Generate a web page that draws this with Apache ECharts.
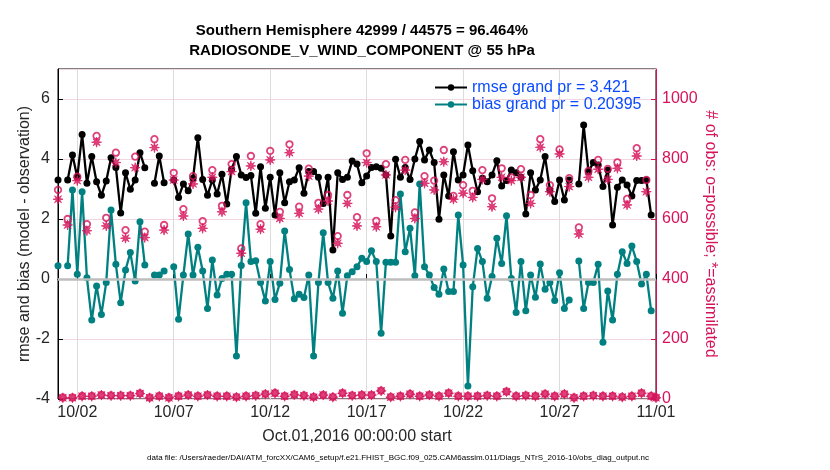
<!DOCTYPE html>
<html><head><meta charset="utf-8">
<script src="https://cdn.jsdelivr.net/npm/echarts@6/dist/echarts.min.js"></script>
<style>html,body{margin:0;padding:0;background:#fff}#c{width:830px;height:470px}</style>
</head><body><div id="c"></div>
<script>
// ---- data (6-hourly bins from Oct 1 2016 00Z to Nov 1 2016 00Z) ----
const titleLines = ['Southern Hemisphere 42999 / 44575 = 96.464%', 'RADIOSONDE_V_WIND_COMPONENT @ 55 hPa'];
const tickLabels = ['10/02','10/07','10/12','10/17','10/22','10/27','11/01'];
const rmseName = 'rmse grand pr = 3.421';
const biasName = 'bias grand pr = 0.20395';

const rmse = [
 3.30, null, 3.30, 4.13, 3.39, 4.82, 3.19, 4.08, 3.24, 2.79,
 3.27, 4.04, 3.72, 2.20, 3.54, 2.99, 3.30, 4.21, 3.71, null,
 3.19, 4.10, 3.21, null, 3.30, 2.72, 3.17, 2.94, 3.36, 4.71,
 3.32, 2.79, 3.30, 2.83, 3.49, 2.50, 3.66, 4.08, 3.47, 3.38,
 3.45, 2.19, 3.74, 2.36, 3.39, 2.13, 3.54, 2.54, 3.24, 3.30,
 3.71, 2.86, 3.58, 3.58, 3.39, 2.52, 3.39, 0.97, 3.54, 3.32,
 3.39, 3.93, 3.83, 3.21, 3.43, 3.72, 3.74, 3.69, 3.47, 1.43,
 3.99, 3.39, 3.72, 3.32, 4.00, 4.58, 3.97, 4.30, 3.88, 1.99,
 3.47, 2.77, 4.24, 3.30, 3.47, 4.47, 3.61, 2.91, 3.36, 3.24,
 3.47, 3.94, 3.10, 3.28, 3.63, 3.54, 3.39, 2.17, 3.54, 2.97,
 3.30, 4.08, 2.97, 2.58, 3.30, 2.63, 3.30, null, 3.17, 5.13,
 3.58, 3.88, 3.80, 3.08, 3.63, 1.80, 3.06, 3.30, 3.13, 2.77,
 3.28, 3.28, 3.30, 2.13, null
];
const bias = [
 0.44, null, 0.44, 2.97, 0.16, 2.91, 0.04, -1.37, -0.23, -1.18,
 -0.12, 2.30, 0.49, -0.79, 0.30, 0.88, -0.07, 1.91, 0.47, null,
 0.13, 0.13, 0.27, null, 0.41, -1.34, 0.13, 1.50, 0.13, 1.06,
 0.27, -0.98, 0.63, -0.53, 0.02, 0.16, 0.16, -2.57, 0.45, 2.54,
 0.58, 0.61, -0.12, -0.73, 0.58, -0.68, -0.14, 1.60, 0.32, -0.66,
 -0.51, -0.62, 0.13, -2.57, -0.12, 1.54, -0.12, -0.64, 0.27, -1.14,
 0.11, 0.24, 0.41, 0.69, 0.58, 0.94, 0.58, -1.81, 0.56, 0.56,
 0.56, 2.83, 0.91, 1.69, 0.11, 3.17, 0.41, 0.13, -0.28, -0.51,
 0.33, -0.42, -0.42, 2.13, 0.47, -3.57, -0.26, 1.02, 0.58, -0.64,
 0.08, 1.36, 0.52, 2.11, 0.02, -1.12, 0.58, -1.06, 0.13, -0.61,
 0.50, -0.34, -0.12, -0.72, 0.21, -0.98, -0.70, null, 0.60, -0.98,
 -0.12, -0.12, 0.49, -2.11, -0.40, -1.37, 0.16, 0.91, 0.52, 1.10,
 0.58, -0.17, 0.16, -1.06, null
];
const possible = [
 697, 5, 600, 5, 741, 10, 583, 10, 877, 14,
 604, 12, 821, 12, 563, 12, 808, 19, 558, 5,
 866, 10, 580, 5, 754, 10, 633, 14, 743, 10,
 593, 14, 763, 10, 644, 10, 783, 7, 502, 10,
 810, 12, 583, 17, 827, 20, 624, 10, 849, 15,
 641, 12, 768, 7, 654, 14, 680, 7, 543, 20,
 680, 12, 606, 14, 819, 14, 594, 28, 783, 7,
 663, 10, 797, 17, 622, 10, 743, 14, 728, 10,
 830, 20, 677, 10, 713, 10, 694, 10, 763, 12,
 669, 10, 769, 25, 739, 10, 766, 12, 680, 10,
 866, 17, 713, 10, 832, 17, 736, 5, 572, 10,
 760, 12, 797, 10, 767, 10, 789, 7, 667, 10,
 836, 20, 730, 10, 5
];
const assimilated = [
 666, 4, 580, 4, 728, 9, 561, 9, 856, 13,
 577, 11, 788, 11, 536, 11, 771, 18, 538, 4,
 838, 9, 563, 4, 730, 9, 610, 13, 717, 9,
 569, 13, 739, 9, 624, 9, 758, 6, 486, 9,
 777, 11, 566, 16, 797, 19, 602, 9, 821, 14,
 619, 11, 743, 6, 633, 13, 660, 6, 519, 19,
 652, 11, 577, 13, 788, 13, 574, 27, 747, 6,
 639, 9, 763, 16, 602, 9, 719, 13, 697, 9,
 791, 19, 666, 9, 686, 9, 672, 9, 732, 11,
 641, 9, 739, 24, 728, 9, 739, 11, 652, 9,
 839, 16, 691, 9, 817, 16, 708, 4, 550, 9,
 739, 11, 766, 9, 732, 9, 769, 6, 647, 9,
 810, 19, 691, 9, 4
];

// ---- axis categories: 6-hourly bin times ----
const binTimes = [];
for (let i = 0; i < rmse.length; i++) {
  const d = new Date(Date.UTC(2016, 9, 1) + i * 6 * 3600 * 1000);
  binTimes.push(d.toISOString().slice(5, 13));
}

const FONT = "'Liberation Sans', Arial, Helvetica, sans-serif";
const PINK = '#d6135a';
const TEAL = '#008080';
const isTick = (idx) => idx % 20 === 4;

const star = (() => {
  let p = 'path://';
  for (let k = 0; k < 16; k++) {
    const a = k * Math.PI / 8 - Math.PI / 2;
    const r = (k % 2 === 0) ? 1 : 0.38;
    p += (k === 0 ? 'M' : 'L') + (r * Math.cos(a)).toFixed(3) + ' ' + (r * Math.sin(a)).toFixed(3) + ' ';
  }
  return p + 'Z';
})();

const chart = echarts.init(document.getElementById('c'), null, {renderer: 'canvas'});
chart.setOption({
  animation: false,
  backgroundColor: '#fff',
  textStyle: {fontFamily: FONT},
  title: {
    text: titleLines.join('\n'),
    left: 357, top: 16, textAlign: 'center',
    textStyle: {fontSize: 15, fontWeight: 'bold', color: '#000', lineHeight: 20, fontFamily: FONT}
  },
  legend: {
    data: [rmseName, biasName],
    orient: 'vertical', left: 434, top: 79, padding: 0,
    itemWidth: 32, itemHeight: 8, itemGap: 0,
    textStyle: {color: '#0a4bff', fontSize: 16, fontFamily: FONT, lineHeight: 17}
  },
  grid: {left: 58, right: 174, top: 69, bottom: 71, show: true, borderColor: '#000', borderWidth: 1, containLabel: false},
  xAxis: {
    type: 'category', data: binTimes, boundaryGap: false,
    name: 'Oct.01,2016 00:00:00 start', nameLocation: 'middle', nameGap: 30,
    nameTextStyle: {fontSize: 16, color: '#262626', fontFamily: FONT},
    axisLine: {lineStyle: {color: '#000', width: 1}},
    axisTick: {inside: true, length: 5, interval: isTick, lineStyle: {color: '#000'}},
    axisLabel: {interval: isTick, fontSize: 16, color: '#262626', margin: 6,
      formatter: (v, idx) => tickLabels[(idx - 4) / 20] || ''},
    splitLine: {show: true, interval: isTick, lineStyle: {color: '#dcdcdc', width: 1}}
  },
  yAxis: [
    {
      type: 'value', min: -4, max: 7, interval: 2, position: 'left',
      name: 'rmse and bias (model - observation)', nameLocation: 'middle', nameGap: 25, nameRotate: 90,
      nameMoveOverlap: false,
      nameTextStyle: {fontSize: 16, color: '#262626', fontFamily: FONT},
      axisLine: {show: true, lineStyle: {color: '#000', width: 1}},
      axisTick: {show: true, inside: true, length: 5, lineStyle: {color: '#000'}},
      axisLabel: {fontSize: 16, color: '#262626', margin: 8, showMaxLabel: false},
      splitLine: {show: false}
    },
    {
      type: 'value', min: 0, max: 1100, interval: 200, position: 'right',
      name: '# of obs: o=possible; *=assimilated', nameLocation: 'middle', nameGap: 46, nameRotate: -90,
      nameMoveOverlap: false,
      nameTextStyle: {fontSize: 16, color: PINK, fontFamily: FONT},
      axisLine: {show: true, lineStyle: {color: PINK, width: 1}},
      axisTick: {show: true, inside: true, length: 5, lineStyle: {color: PINK}},
      axisLabel: {fontSize: 16, color: PINK, margin: 6, showMaxLabel: false, formatter: (v) => String(v)},
      splitLine: {show: true, lineStyle: {color: '#f1d6e0', width: 1}}
    }
  ],
  graphic: [{
    type: 'text', x: 398, y: 454,
    style: {text: 'data file: /Users/raeder/DAI/ATM_forcXX/CAM6_setup/f.e21.FHIST_BGC.f09_025.CAM6assim.011/Diags_NTrS_2016-10/obs_diag_output.nc',
      fontSize: 8, fill: '#000', fontFamily: FONT, align: 'center', textAlign: 'center'}
  }],
  series: [
    {
      name: 'zero', type: 'line', data: [], yAxisIndex: 0, z: 1, silent: true,
      markLine: {silent: true, symbol: 'none', label: {show: false},
        lineStyle: {color: '#bdbdbd', width: 2.5, type: 'solid'}, data: [{yAxis: 0}]}
    },
    {
      name: rmseName, type: 'line', data: rmse, yAxisIndex: 0, z: 3,
      symbol: 'circle', symbolSize: 7, showAllSymbol: true, connectNulls: false,
      lineStyle: {color: '#000', width: 2.3}, itemStyle: {color: '#000'}
    },
    {
      name: biasName, type: 'line', data: bias, yAxisIndex: 0, z: 3,
      symbol: 'circle', symbolSize: 7, showAllSymbol: true, connectNulls: false,
      lineStyle: {color: TEAL, width: 2.3}, itemStyle: {color: TEAL}
    },
    {
      name: 'possible', type: 'scatter', data: possible, yAxisIndex: 1, z: 4,
      symbol: 'circle', symbolSize: 6.5,
      itemStyle: {color: 'rgba(0,0,0,0)', borderColor: PINK, borderWidth: 1.8}
    },
    {
      name: 'assimilated', type: 'scatter', data: assimilated, yAxisIndex: 1, z: 4,
      symbol: star, symbolSize: 10,
      itemStyle: {color: PINK, borderColor: PINK, borderWidth: 0.8}
    }
  ]
});
</script></body></html>
